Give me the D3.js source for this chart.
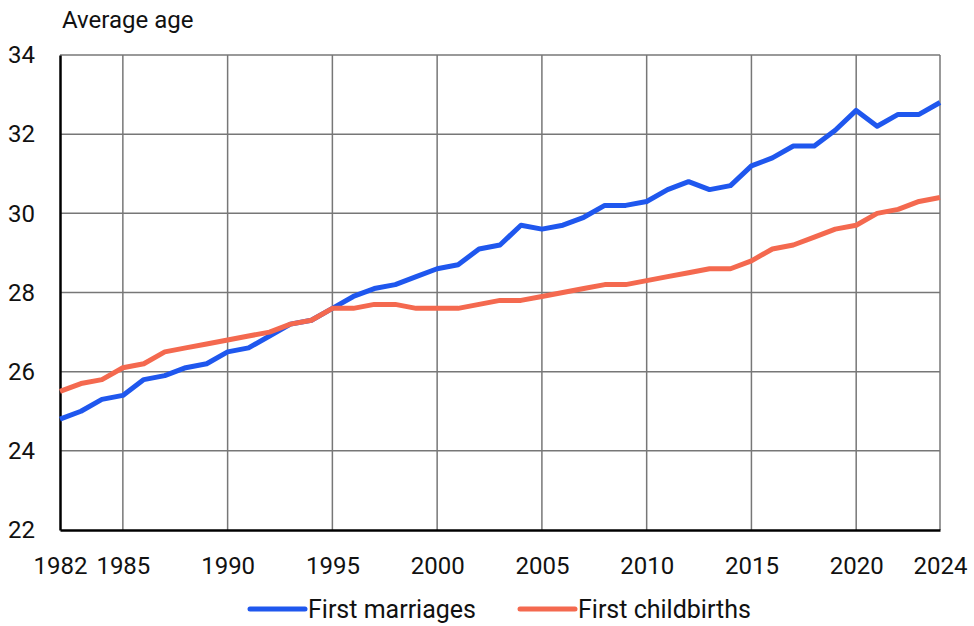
<!DOCTYPE html>
<html lang="en">
<head>
    <meta charset="UTF-8">
    <title>Average age at first marriage and first childbirth</title>
    <script src="https://d3js.org/d3.v7.min.js"></script>
    <style>
        body { margin: 0; background: #fff; }
        text { font-family: Roboto, "Noto Sans", sans-serif; fill: #111; }
    </style>
</head>
<body>
    <div id="chart"></div>

    <script>
        // Data
        const years = d3.range(1982, 2025);
        const firstMarriages = [
            24.8, 25.0, 25.3, 25.4, 25.8, 25.9, 26.1, 26.2, 26.5, 26.6,
            26.9, 27.2, 27.3, 27.6, 27.9, 28.1, 28.2, 28.4, 28.6, 28.7,
            29.1, 29.2, 29.7, 29.6, 29.7, 29.9, 30.2, 30.2, 30.3, 30.6,
            30.8, 30.6, 30.7, 31.2, 31.4, 31.7, 31.7, 32.1, 32.6, 32.2,
            32.5, 32.5, 32.8
        ];
        const firstChildbirths = [
            25.5, 25.7, 25.8, 26.1, 26.2, 26.5, 26.6, 26.7, 26.8, 26.9,
            27.0, 27.2, 27.3, 27.6, 27.6, 27.7, 27.7, 27.6, 27.6, 27.6,
            27.7, 27.8, 27.8, 27.9, 28.0, 28.1, 28.2, 28.2, 28.3, 28.4,
            28.5, 28.6, 28.6, 28.8, 29.1, 29.2, 29.4, 29.6, 29.7, 30.0,
            30.1, 30.3, 30.4
        ];
        const xTicks = [1982, 1985, 1990, 1995, 2000, 2005, 2010, 2015, 2020, 2024];
        const yTicks = [22, 24, 26, 28, 30, 32, 34];
        const seriesNames = ["First marriages", "First childbirths"];
        const seriesColors = ["#1f57ee", "#f4694f"];

        const W = 974, H = 626;
        const margin = { top: 55, right: 34, bottom: 96, left: 60 };
        const width = W - margin.left - margin.right;
        const height = H - margin.top - margin.bottom;

        const svg = d3.select("#chart")
            .append("svg")
            .attr("width", W)
            .attr("height", H);

        const g = svg.append("g")
            .attr("transform", `translate(${margin.left},${margin.top})`);

        const x = d3.scaleLinear().domain([1982, 2024]).range([0, width]);
        const y = d3.scaleLinear().domain([22, 34]).range([height, 0]);

        // Grid
        g.append("g")
            .selectAll("line")
            .data(xTicks.slice(1))
            .join("line")
            .attr("x1", d => x(d)).attr("x2", d => x(d))
            .attr("y1", 0).attr("y2", height)
            .attr("stroke", "#777").attr("stroke-width", 1.5);

        g.append("g")
            .selectAll("line")
            .data(yTicks.slice(1))
            .join("line")
            .attr("x1", 0).attr("x2", width)
            .attr("y1", d => y(d)).attr("y2", d => y(d))
            .attr("stroke", "#777").attr("stroke-width", 1.5);

        // Axes
        const xAxis = g.append("g")
            .attr("transform", `translate(0,${height})`)
            .call(d3.axisBottom(x).tickValues(xTicks).tickFormat(d3.format("d")).tickSize(0).tickPadding(27));
        xAxis.select(".domain").attr("stroke", "#000").attr("stroke-width", 2.5);
        xAxis.selectAll("text").style("font-size", "24px");

        const yAxis = g.append("g")
            .call(d3.axisLeft(y).tickValues(yTicks).tickSize(0).tickPadding(25));
        yAxis.select(".domain").attr("stroke", "#000").attr("stroke-width", 2.5);
        yAxis.selectAll("text").style("font-size", "24px");

        // Axis title
        svg.append("text")
            .attr("x", 62)
            .attr("y", 28)
            .style("font-size", "24px")
            .text("Average age");

        // Lines
        const series = [firstMarriages, firstChildbirths];
        const line = d3.line()
            .x((d, i) => x(years[i]))
            .y(d => y(d));

        g.selectAll(".series")
            .data(series)
            .join("path")
            .attr("class", "series")
            .attr("fill", "none")
            .attr("stroke", (d, i) => seriesColors[i])
            .attr("stroke-width", 5)
            .attr("stroke-linejoin", "round")
            .attr("d", line);

        // Legend
        const legendX = [250, 520];
        const legend = svg.selectAll(".legend")
            .data(seriesNames)
            .join("g")
            .attr("class", "legend")
            .attr("transform", (d, i) => `translate(${legendX[i]},609)`);

        legend.append("line")
            .attr("x1", 0).attr("x2", 55)
            .attr("stroke", (d, i) => seriesColors[i])
            .attr("stroke-width", 5)
            .attr("stroke-linecap", "round");

        legend.append("text")
            .attr("x", 58)
            .attr("dy", "0.35em")
            .style("font-size", "25px")
            .text(d => d);
    </script>
</body>
</html>
